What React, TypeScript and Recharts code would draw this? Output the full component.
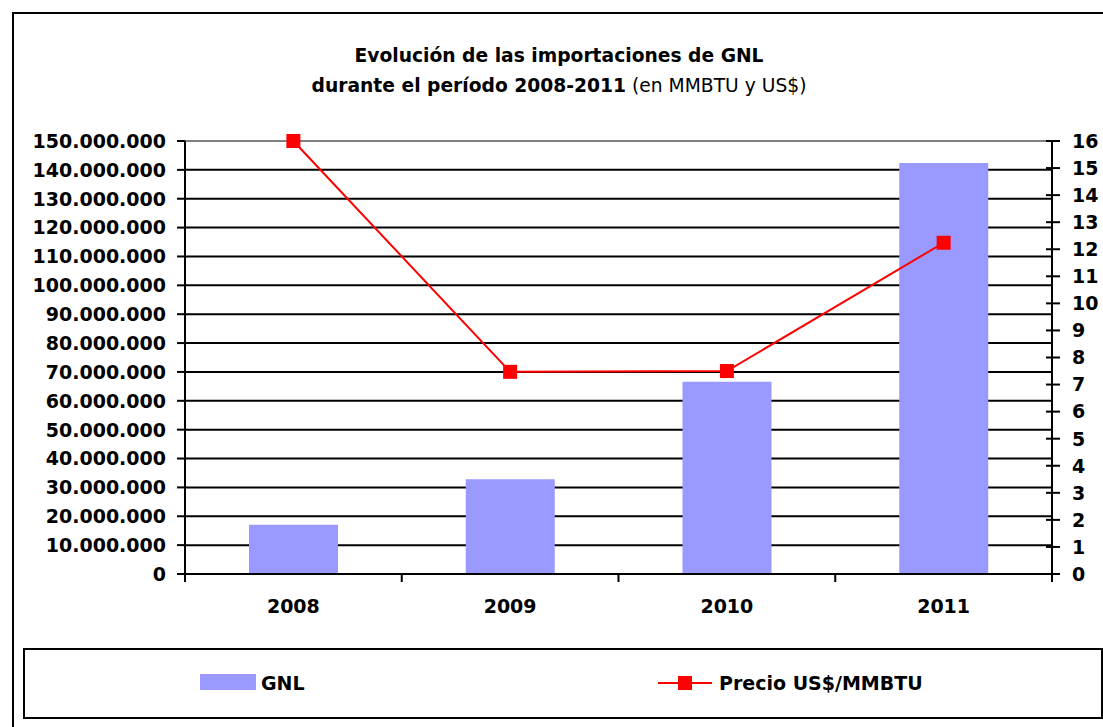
import {
  ComposedChart,
  Bar,
  Line,
  XAxis,
  YAxis,
  CartesianGrid,
  ReferenceLine,
  Legend,
} from 'recharts'

const years = ['2008', '2009', '2010', '2011']
const gnlVolumen = [17100000, 32800000, 66600000, 142400000]
const precioMmbtu = [16.0, 7.47, 7.5, 12.24]

const ticksVolumen = [
  0, 10000000, 20000000, 30000000, 40000000, 50000000, 60000000, 70000000,
  80000000, 90000000, 100000000, 110000000, 120000000, 130000000, 140000000, 150000000,
]
const ticksPrecio = [0, 1, 2, 3, 4, 5, 6, 7, 8, 9, 10, 11, 12, 13, 14, 15, 16]

const data = years.map((year, i) => ({
  year,
  gnl: gnlVolumen[i],
  precio: precioMmbtu[i],
}))

const FONT = '"DejaVu Sans", Verdana, sans-serif'
const BAR_COLOR = '#9999FF'
const LINE_COLOR = '#FF0000'

// separador de miles con punto
const miles = (v: number) => String(v).replace(/\B(?=(\d{3})+(?!\d))/g, '.')

function LeftTick({ x, y, payload }: any) {
  return (
    <g>
      <line x1={x - 8} x2={x} y1={y} y2={y} stroke="#000" strokeWidth={2} />
      <text
        x={x - 19}
        y={y}
        dy="0.36em"
        textAnchor="end"
        fontFamily={FONT}
        fontWeight="bold"
        fontSize={19}
        fill="#000"
      >
        {miles(payload.value)}
      </text>
    </g>
  )
}

function RightTick({ x, y, payload }: any) {
  return (
    <g>
      <line x1={x - 6} x2={x + 8} y1={y} y2={y} stroke="#000" strokeWidth={2} />
      <text
        x={x + 20}
        y={y}
        dy="0.36em"
        textAnchor="start"
        fontFamily={FONT}
        fontWeight="bold"
        fontSize={19}
        fill="#000"
      >
        {payload.value}
      </text>
    </g>
  )
}

function YearTick({ x, y, payload, index, visibleTicksCount, width }: any) {
  const half = payload.offset || (width ? width / visibleTicksCount / 2 : 108)
  const last = index === visibleTicksCount - 1
  return (
    <g>
      <line x1={x - half} x2={x - half} y1={y} y2={y + 8} stroke="#000" strokeWidth={2} />
      {last && (
        <line x1={x + half} x2={x + half} y1={y} y2={y + 8} stroke="#000" strokeWidth={2} />
      )}
      <text
        x={x}
        y={y + 39}
        textAnchor="middle"
        fontFamily={FONT}
        fontWeight="bold"
        fontSize={19}
        fill="#000"
      >
        {payload.value}
      </text>
    </g>
  )
}

function Square({ cx, cy }: any) {
  if (cx == null || cy == null) return null
  return <rect x={cx - 7} y={cy - 7} width={14} height={14} fill={LINE_COLOR} />
}

function LegendBox() {
  return (
    <div
      style={{
        position: 'relative',
        width: 1080,
        height: 71,
        border: '2px solid #000',
        boxSizing: 'border-box',
        background: '#fff',
        fontFamily: FONT,
        fontWeight: 'bold',
        fontSize: 19,
        color: '#000',
      }}
    >
      <div
        style={{ position: 'absolute', left: 175, top: 24, width: 56, height: 16, background: BAR_COLOR }}
      />
      <span style={{ position: 'absolute', left: 236, top: 22, lineHeight: '22px' }}>GNL</span>
      <svg style={{ position: 'absolute', left: 633, top: 25 }} width={56} height={16}>
        <line x1={0} x2={54} y1={8} y2={8} stroke={LINE_COLOR} strokeWidth={2} />
        <rect x={20} y={1} width={14} height={14} fill={LINE_COLOR} />
      </svg>
      <span style={{ position: 'absolute', left: 694, top: 22, lineHeight: '22px' }}>
        Precio US$/MMBTU
      </span>
    </div>
  )
}

export default function App() {
  return (
    <div
      style={{
        position: 'absolute',
        left: 0,
        top: 0,
        width: 1103,
        height: 727,
        overflow: 'hidden',
        background: '#fff',
      }}
    >
      <div
        style={{
          position: 'absolute',
          left: 12,
          top: 12,
          width: 1200,
          height: 800,
          border: '2px solid #000',
        }}
      />
      <div
        style={{
          position: 'absolute',
          left: 259,
          top: 41,
          width: 600,
          textAlign: 'center',
          fontFamily: FONT,
          fontSize: 18.7,
          lineHeight: '30px',
          color: '#000',
        }}
      >
        <div style={{ fontWeight: 'bold' }}>Evolución de las importaciones de GNL</div>
        <div style={{ whiteSpace: 'nowrap' }}>
          <span style={{ fontWeight: 'bold' }}>durante el período 2008-2011</span>
          <span> (en MMBTU y US$)</span>
        </div>
      </div>
      <div style={{ position: 'absolute', left: 0, top: 0 }}>
        <ComposedChart
          width={1103}
          height={727}
          data={data}
          margin={{ top: 141, right: 0, left: 0, bottom: 123 }}
        >
          <CartesianGrid
            yAxisId="vol"
            vertical={false}
            stroke="#000"
            strokeWidth={2}
            strokeOpacity={1}
          />
          <ReferenceLine yAxisId="vol" y={150000000} stroke="#808080" strokeWidth={2} />
          <XAxis
            dataKey="year"
            height={30}
            tickLine={false}
            tickSize={0}
            tickMargin={0}
            axisLine={{ stroke: '#000', strokeWidth: 2 }}
            tick={<YearTick />}
            interval={0}
          />
          <YAxis
            yAxisId="vol"
            width={185}
            domain={[0, 150000000]}
            ticks={ticksVolumen}
            interval={0}
            tickLine={false}
            tickSize={0}
            tickMargin={0}
            axisLine={{ stroke: '#000', strokeWidth: 2 }}
            tick={<LeftTick />}
          />
          <YAxis
            yAxisId="precio"
            orientation="right"
            width={51}
            domain={[0, 16]}
            ticks={ticksPrecio}
            interval={0}
            tickLine={false}
            tickSize={0}
            tickMargin={0}
            axisLine={{ stroke: '#000', strokeWidth: 2 }}
            tick={<RightTick />}
          />
          <Bar
            yAxisId="vol"
            dataKey="gnl"
            name="GNL"
            fill={BAR_COLOR}
            barSize={89}
            isAnimationActive={false}
          />
          <Line
            yAxisId="precio"
            dataKey="precio"
            name="Precio US$/MMBTU"
            type="linear"
            stroke={LINE_COLOR}
            strokeWidth={2}
            dot={<Square />}
            activeDot={false}
            isAnimationActive={false}
          />
          <Legend
            layout="horizontal"
            verticalAlign="middle"
            align="center"
            content={<LegendBox />}
            wrapperStyle={{ left: 23, top: 648, width: 1080, height: 71 }}
          />
        </ComposedChart>
      </div>
    </div>
  )
}
